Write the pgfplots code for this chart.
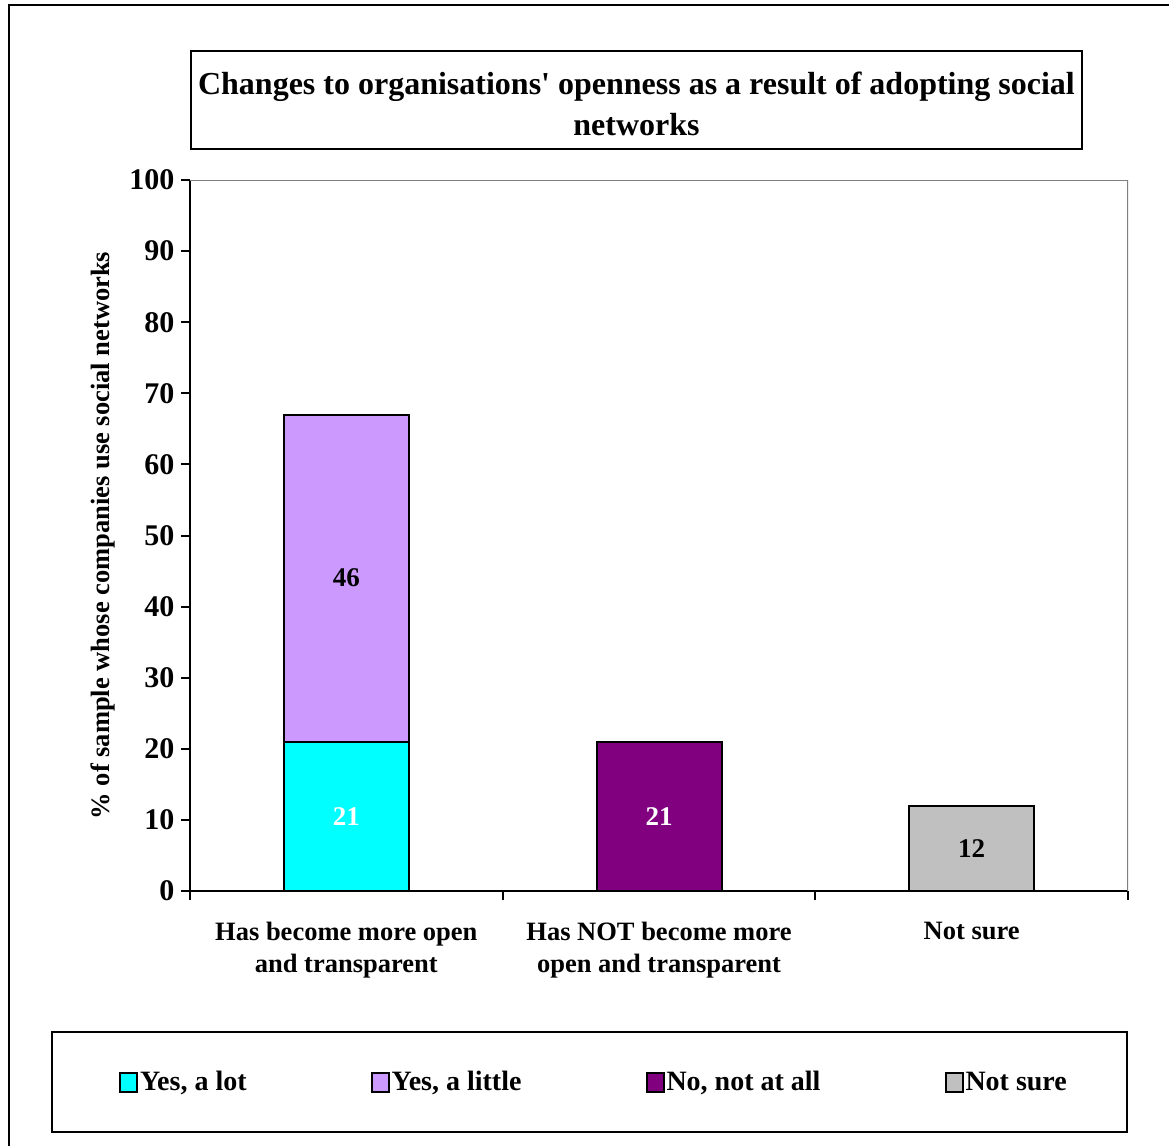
\documentclass[border=0pt]{standalone}
\usepackage{pgfplots}
\pgfplotsset{compat=1.18}
\usepackage{fontspec}
\setmainfont{Liberation Serif}

\definecolor{lotcol}{HTML}{00FFFF}
\definecolor{littlecol}{HTML}{CC99FF}
\definecolor{notcol}{HTML}{800080}
\definecolor{surecol}{HTML}{C0C0C0}
\definecolor{framegray}{HTML}{808080}

% label in the middle of a bar segment, in the given colour
\pgfplotsset{barlabel/.style={every node near coord/.style={
  font=\bfseries\fontsize{27}{30}\selectfont, anchor=center, text=#1}}}

\begin{document}
\begin{tikzpicture}[x=1pt,y=1pt]
\useasboundingbox (0,0) rectangle (1169,-1146);
% outer frame (only left and top visible)
\draw[line width=1.5pt] (9,-1146) -- (9,-5) -- (1169,-5);
% title box
\draw[line width=2pt] (191,-51) rectangle (1082,-149);
\node[align=center, font=\bfseries\fontsize{32}{41}\selectfont] at (636.5,-104)
  {Changes to organisations{\addfontfeature{Mapping=}'} openness as a result of adopting social\\networks};
% legend box
\draw[line width=2.2pt] (52,-1032) rectangle (1127,-1132);

\begin{axis}[
  at={(190pt,-891pt)}, anchor=south west,
  scale only axis, width=938pt, height=711pt,
  ybar stacked, bar width=125pt,
  xmin=-0.5, xmax=2.5, ymin=0, ymax=100,
  ytick={0,10,...,100},
  xtick={0,1,2},
  xticklabels={Has become more open\\and transparent, Has NOT become more\\open and transparent, Not sure},
  minor xtick={-0.5,0.5,1.5,2.5},
  axis x line*=bottom, axis y line*=left,
  axis line style={line width=2.2pt, -},
  tick align=outside,
  major tick length=9pt, minor tick length=9pt,
  y tick style={black, line width=2pt},
  minor x tick style={black, line width=2pt},
  major x tick style={draw=none},
  /pgf/number format/assume math mode=true,
  yticklabel style={font=\bfseries\fontsize{30}{34}\selectfont, xshift=-3pt},
  xticklabel style={align=center, yshift=-19pt, font=\bfseries\fontsize{26.5}{32}\selectfont},
  ylabel={\% of sample whose companies use social networks},
  ylabel style={at={(axis description cs:-0.0928,0.5)}, anchor=center, font=\bfseries\fontsize{26.5}{30}\selectfont},
  nodes near coords={\pgfplotspointmeta},
  point meta=explicit symbolic,
  legend columns=4,
  legend style={draw=none, fill=none, at={(0.4307,-0.2686)}, anchor=center,
    font=\bfseries\fontsize{28}{30}\selectfont,
    /tikz/every even column/.append style={column sep=122pt}},
  legend image code/.code={\draw[#1, line width=2pt] (0pt,-10pt) rectangle (17pt,9pt);},
]
\addplot[fill=lotcol, draw=black, line width=2pt, barlabel=white]
  coordinates {(0,21) [21] (1,0) [\relax] (2,0) [\relax]};
\addplot[fill=littlecol, draw=black, line width=2pt, barlabel=black]
  coordinates {(0,46) [46] (1,0) [\relax] (2,0) [\relax]};
\addplot[fill=notcol, draw=black, line width=2pt, barlabel=white]
  coordinates {(0,0) [\relax] (1,21) [21] (2,0) [\relax]};
\addplot[fill=surecol, draw=black, line width=2pt, barlabel=black]
  coordinates {(0,0) [\relax] (1,0) [\relax] (2,12) [12]};
\legend{Yes{,} a lot, Yes{,} a little, No{,} not at all, Not sure}
\draw[framegray, line width=2.2pt] (rel axis cs:0,1) -- (rel axis cs:1,1) -- (rel axis cs:1,0);
\end{axis}
\end{tikzpicture}
\end{document}
